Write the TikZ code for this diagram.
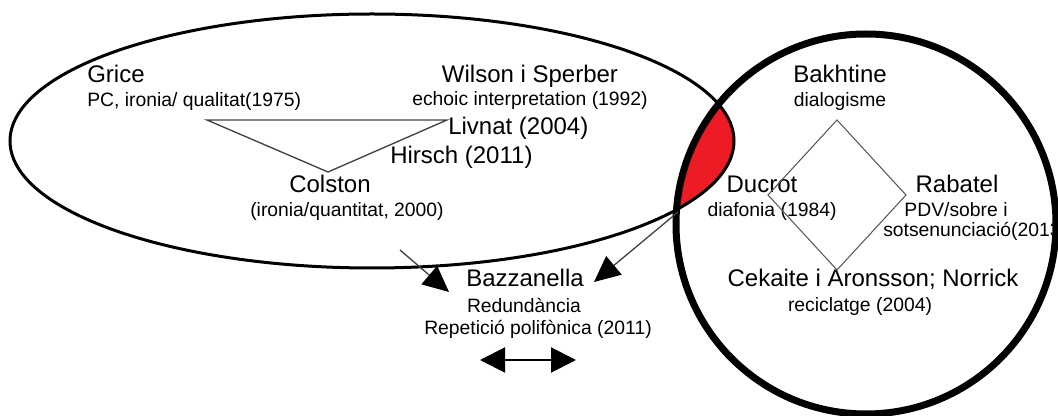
\documentclass[tikz,border=0pt]{standalone}
\usepackage{fontspec}
\setmainfont{Liberation Sans}
\usetikzlibrary{arrows.meta}
\definecolor{lensred}{RGB}{237,28,36}

\tikzset{
    big/.style={font=\fontsize{18}{20}\selectfont, inner sep=0pt, anchor=base},
    small/.style={font=\fontsize{14.5}{16}\selectfont, inner sep=0pt, anchor=base},
    thinline/.style={draw=black!75, line width=1pt},
    bighead/.style={-{Triangle[length=19.5pt,width=18pt,color=black]}},
}

\begin{document}
\begin{tikzpicture}[x=0.75pt,y=-0.75pt]
    \useasboundingbox (0,0) rectangle (1058,416);

    % overlap of the two fields
    \begin{scope}
        \clip (372,141) ellipse [x radius=362, y radius=127];
        \fill[lensred] (866,224) circle [radius=190];
    \end{scope}

    % fields
    \draw[line width=2.25pt] (372,141) ellipse [x radius=362, y radius=127];
    \draw[line width=5.25pt] (866,224) circle [radius=190];

    % corners of triangle and diamond
    \coordinate (tl) at (207,120);
    \coordinate (tr) at (447,120);
    \coordinate (tb) at (328,172);
    \coordinate (dt) at (837,120);
    \coordinate (dr) at (906,195);
    \coordinate (db) at (837,270);
    \coordinate (dl) at (768,195);

    % nodes (authors)
    \node[big, anchor=base west] (grice) at (87,83) {Grice};
    \node[small, anchor=base west] (gricetxt) at (87,107) {PC, ironia/ qualitat(1975)};
    \node[big] (wilson) at (530,83) {Wilson i Sperber};
    \node[small] (wilsontxt) at (530,106) {echoic interpretation (1992)};
    \node[big, anchor=base west] (livnat) at (448,135) {Livnat (2004)};
    \node[big, anchor=base west] (hirsch) at (390,164) {Hirsch (2011)};
    \node[big] (colston) at (330,193) {Colston};
    \node[small] (colstontxt) at (347,217) {(ironia/quantitat, 2000)};
    \node[big] (bakhtine) at (840,83) {Bakhtine};
    \node[small] (bakhtinetxt) at (840,107) {dialogisme};
    \node[big] (ducrot) at (762,193) {Ducrot};
    \node[small] (ducrottxt) at (772,217) {diafonia (1984)};
    \node[big] (rabatel) at (957,193) {Rabatel};
    \node[small] (rabateltxt) at (956,217) {PDV/sobre i};
    \node[small, anchor=base west] (rabateltxtb) at (883,237) {sotsenunciació(2013)};
    \node[big] (cekaite) at (873,287) {Cekaite i Aronsson; Norrick};
    \node[small] (cekaitetxt) at (860,312) {reciclatge (2004)};
    \node[big] (bazz) at (525,287) {Bazzanella};
    \node[small] (bazztxt) at (524,313) {Redundància};
    \node[small] (bazztxtb) at (538,335) {Repetició polifònica (2011)};

    % edges
    \draw[thinline] (tl) -- (tr) -- (tb) -- cycle; % Grice - Livnat - Colston
    \draw[draw=black!65, line width=0.8pt] (dt) -- (dr) -- (db) -- (dl) -- cycle; % Bakhtine - Rabatel - Cekaite - Ducrot

    \coordinate (ellin) at (400,250);
    \coordinate (bazzl) at (449,292);
    \coordinate (lensbot) at (678,212);
    \coordinate (bazzr) at (594,282);
    \coordinate (dblleft) at (480,360);
    \coordinate (dblright) at (576,360);

    \draw[thinline, bighead] (ellin) to (bazzl); % ellipse -> Bazzanella
    \draw[thinline, bighead] (lensbot) to (bazzr); % overlap -> Bazzanella
    \draw[line width=1.5pt, {Triangle[length=18.75pt,width=18.75pt]}-{Triangle[length=18.75pt,width=18.75pt]}] (dblleft) to (dblright);

\end{tikzpicture}
\end{document}
